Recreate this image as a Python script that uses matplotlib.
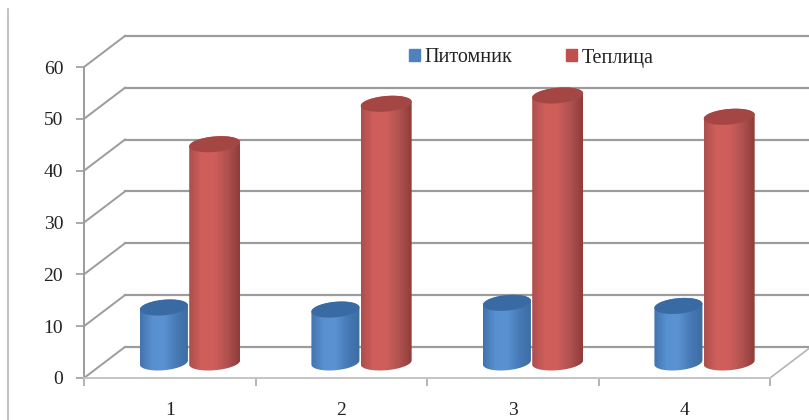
#!/usr/bin/env python3
# -*- coding: utf-8 -*-
"""Pseudo-3D cylinder chart: Питомник vs Теплица over four observations."""

import numpy as np
import matplotlib
matplotlib.use('Agg')
import matplotlib.pyplot as plt
from matplotlib.colors import LinearSegmentedColormap
from matplotlib.patches import Patch, Polygon

categories = ['1', '2', '3', '4']
y_ticks = [0, 10, 20, 30, 40, 50, 60]
nursery = [10.6, 10.2, 11.5, 10.9]
greenhouse = [42.1, 49.9, 51.5, 47.4]

# Depth of the fake 3D box, in data units
DEPTH_X = 0.239
DEPTH_Y = 6.0
GRID = '#9c9c9c'

plt.rcParams['font.family'] = ['Liberation Serif', 'DejaVu Serif']

fig = plt.figure(figsize=(8.09, 4.2), dpi=100)
ax = fig.add_axes([84 / 809, 1 - 378 / 420, 686 / 809, 311 / 420])
ax.set_xlim(0, 4)
ax.set_ylim(0, 60)
ax.patch.set_visible(False)


def draw_cylinder(ax, xc, value, width, colors, top_color):
    """Cylinder standing in the middle of the floor, shaded left to right"""
    t = np.linspace(0, np.pi, 60)
    half = width / 2
    base = DEPTH_Y / 2
    top = value + base
    b, tilt = 1.5, 0.4

    # Upper half of the top rim, then lower half of the base rim
    upper_x = xc + half * np.cos(t)
    upper_y = top + b * np.sin(t) + tilt * np.cos(t)
    lower_x = xc - half * np.cos(t)
    lower_y = base - b * np.sin(t) - tilt * np.cos(t)
    outline = np.column_stack([np.r_[upper_x, lower_x], np.r_[upper_y, lower_y]])

    cmap = LinearSegmentedColormap.from_list('shade', colors)
    img = ax.imshow(np.linspace(0, 1, 128).reshape(1, -1), cmap=cmap, aspect='auto',
                    extent=(xc - half, xc + half, base - b - 1, top + b + 1),
                    zorder=3, clip_on=True)
    body = Polygon(outline, closed=True, transform=ax.transData, fc='none', ec='none')
    ax.add_patch(body)
    img.set_clip_path(body)

    cap_t = np.linspace(0, 2 * np.pi, 120)
    cap_x = xc + half * np.cos(cap_t)
    cap_y = top + b * np.sin(cap_t) + tilt * np.cos(cap_t)
    ax.fill(cap_x, cap_y, color=top_color, lw=0, zorder=4)


# Side and back walls of the box
for v in y_ticks:
    ax.plot([0, DEPTH_X], [v, v + DEPTH_Y], color=GRID, lw=1.4, clip_on=False, zorder=1)
    ax.plot([DEPTH_X, 4 + DEPTH_X], [v + DEPTH_Y, v + DEPTH_Y], color=GRID, lw=1.6,
            clip_on=False, zorder=1)
ax.plot([4, 4 + DEPTH_X], [0, DEPTH_Y], color='#b4b4b4', lw=1.2, clip_on=False, zorder=1)

blue_shade = ['#4273ad', '#5890d0', '#5a92d2', '#4779b5', '#3d6ca0']
red_shade = ['#ad4f4d', '#d05f5c', '#cf5e5b', '#b05250', '#8f3c3a']

for i in range(len(categories)):
    draw_cylinder(ax, i + 0.466, nursery[i], 0.28, blue_shade, '#396aa4')
    draw_cylinder(ax, i + 0.762, greenhouse[i], 0.297, red_shade, '#a44644')

ax.set_xlim(0, 4)
ax.set_ylim(0, 60)

for side in ['top', 'right']:
    ax.spines[side].set_visible(False)
ax.spines['left'].set_color(GRID)
ax.spines['left'].set_linewidth(1.4)
ax.spines['bottom'].set_color('#c4c4c4')
ax.spines['bottom'].set_linewidth(1.4)

ax.set_yticks(y_ticks)
ax.tick_params(axis='y', length=6, width=1.2, color=GRID, labelsize=14,
               labelcolor='#222222', pad=9)
ax.set_xticks(range(5))
ax.set_xticklabels([])
ax.set_xticks(np.arange(4) + 0.5, labels=categories, minor=True)
ax.tick_params(axis='x', which='major', length=6, width=1.2, color='#a8a8a8')
ax.tick_params(axis='x', which='minor', length=0, labelsize=14, labelcolor='#222222', pad=17)

handles = [Patch(color='#4f81bd', label='Питомник'), Patch(color='#c0504d', label='Теплица')]
fig.legend(handles=handles, ncol=2, frameon=False, fontsize=14.5, labelcolor='#222222',
           loc='center left', bbox_to_anchor=(391 / 809, 1 - 58 / 420),
           handlelength=0.55, handleheight=0.55, handletextpad=0.2, columnspacing=2.7)

# Outer frame edge on the left
fig.add_artist(plt.Line2D([8 / 809, 8 / 809], [0, 1 - 9 / 420], color='#b8b8b8', lw=1.2))

fig.savefig('out.png', dpi=100)
